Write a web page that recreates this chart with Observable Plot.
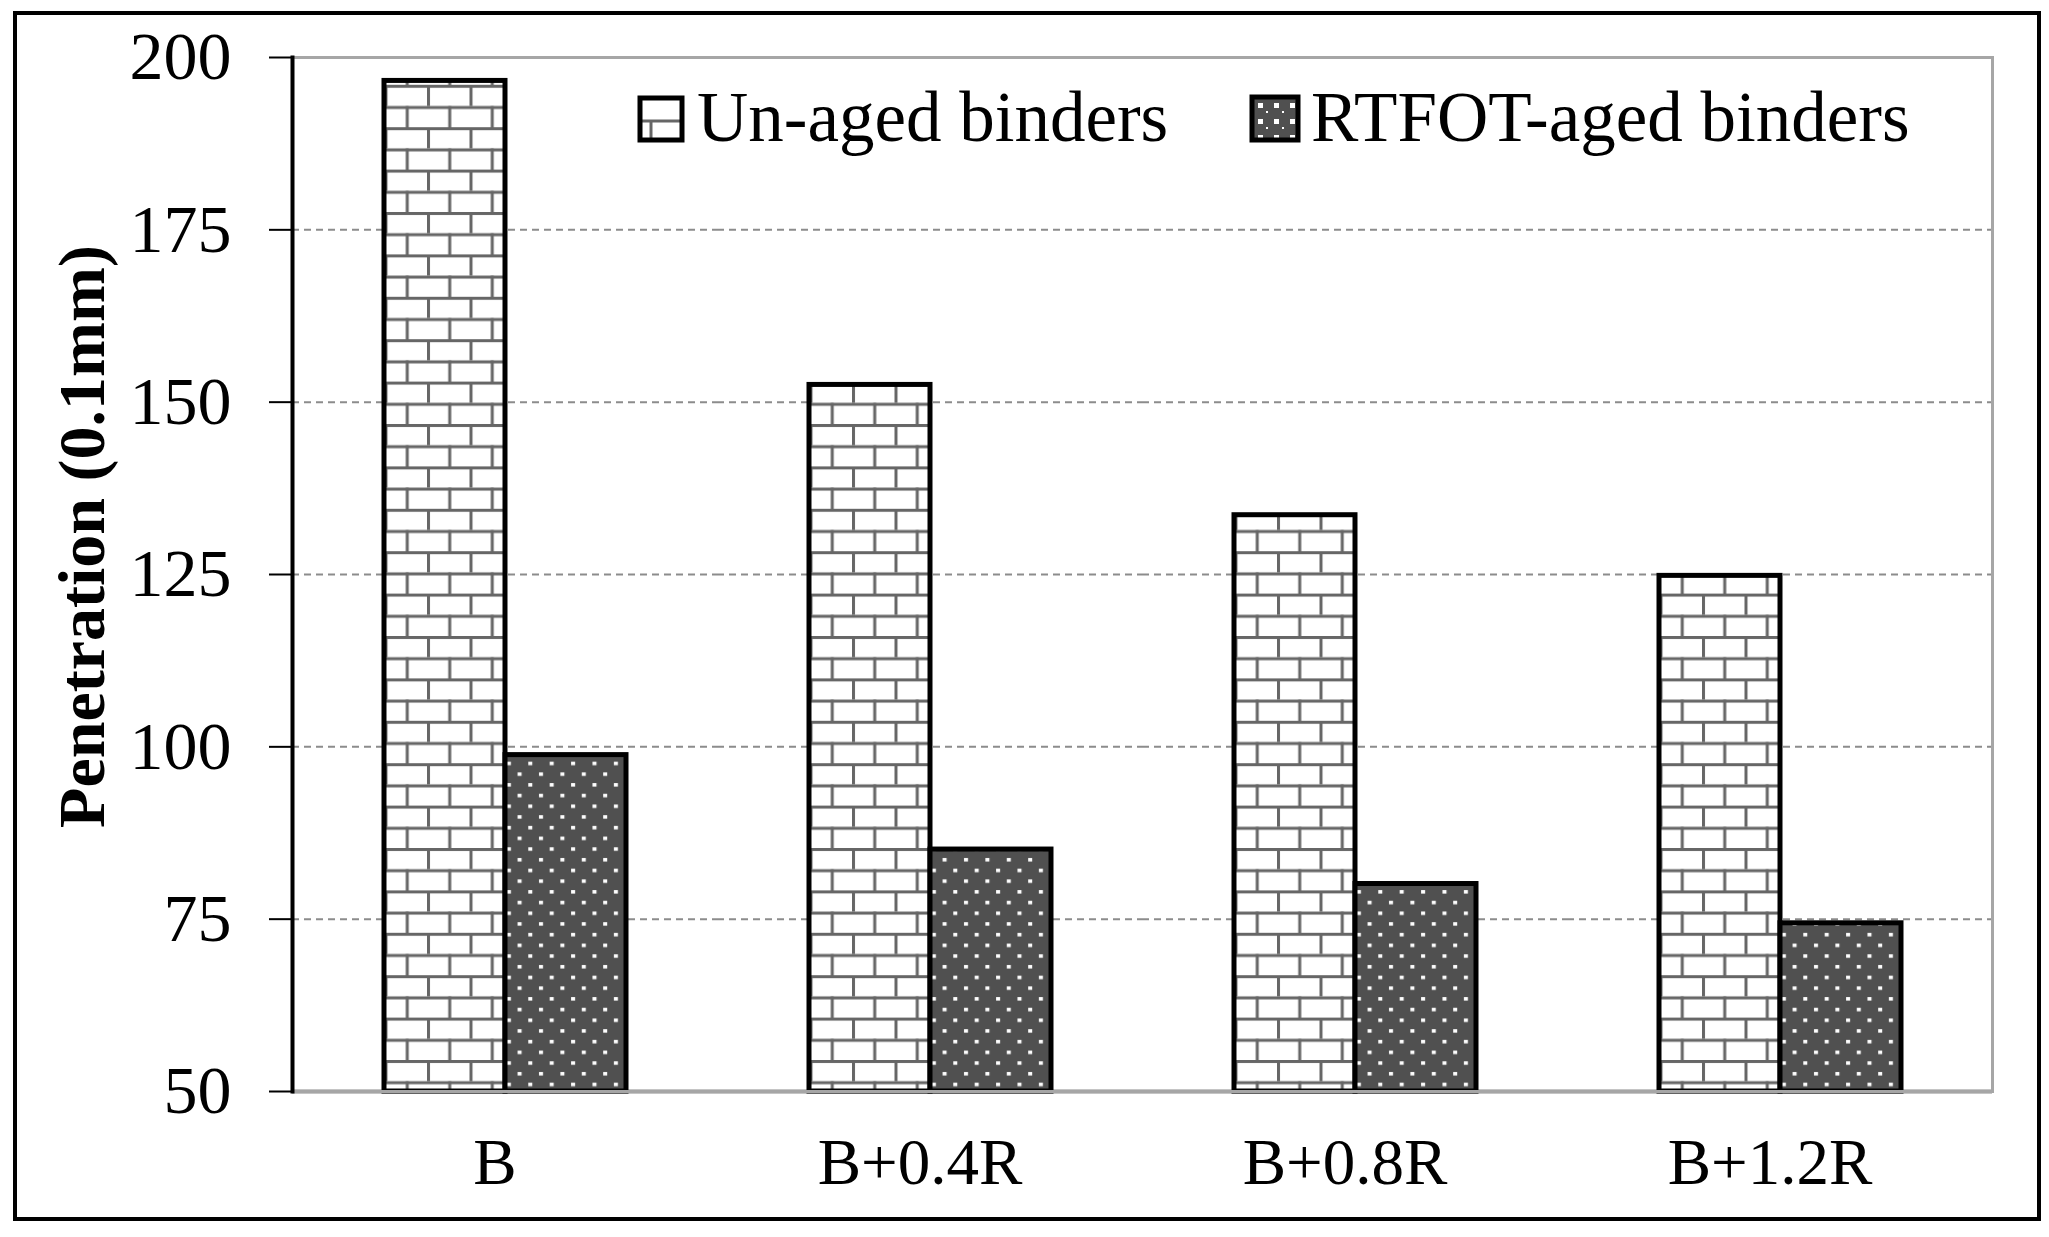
<!DOCTYPE html>
<html><head><meta charset="utf-8">
<script src="https://cdn.jsdelivr.net/npm/d3@7"></script>
<script src="https://cdn.jsdelivr.net/npm/@observablehq/plot@0.6"></script>
<style>
body{margin:0;background:#fff;}
#wrap{position:relative;width:2049px;height:1237px;overflow:hidden;}
#border{position:absolute;left:13px;top:11px;width:2028px;height:1210px;border:4px solid #000;box-sizing:border-box;pointer-events:none;}
#legend{position:absolute;left:0;top:0;}
</style></head><body>
<div id="wrap"><div id="chart"></div><div id="border"></div><svg id="legend" width="2049" height="200"></svg></div>
<script>
const categories = ["B", "B+0.4R", "B+0.8R", "B+1.2R"];
const series = ["Un-aged binders", "RTFOT-aged binders"];
const unaged = [196.6, 152.5, 133.6, 124.8];
const rtfot = [98.8, 85.1, 80.1, 74.4];
const yTicks = [50, 75, 100, 125, 150, 175, 200];
const yLabel = "Penetration (0.1mm)";

const rows = categories.flatMap((c, i) => [
  {cat: c, series: series[0], value: unaged[i]},
  {cat: c, series: series[1], value: rtfot[i]}
]);
const yMin = yTicks[0], yMax = yTicks[yTicks.length - 1];
const font = "'Liberation Serif', 'Times New Roman', serif";

const plot = Plot.plot({
  width: 2049, height: 1237,
  marginLeft: 290, marginRight: 56, marginTop: 57, marginBottom: 146,
  style: {fontFamily: font, background: "transparent", color: "#000"},
  fx: {domain: categories, padding: 0, label: null},
  x: {domain: series, paddingInner: 0, paddingOuter: 0.745, axis: null},
  y: {domain: [yMin, yMax], label: null},
  color: {domain: series, range: ["url(#brick)", "url(#dots)"]},
  marks: [
    Plot.gridY(yTicks.slice(1, -1), {stroke: "#8c8c8c", strokeOpacity: 1, strokeWidth: 2, strokeDasharray: "7,5"}),
    Plot.ruleY([yMin], {stroke: "#8c8c8c", strokeWidth: 4}),
    Plot.barY(rows, {fx: "cat", x: "series", y1: yMin, y2: "value", fill: "series", stroke: "#000", strokeWidth: 5}),
    Plot.frame({facet: "super", stroke: "#a6a6a6", strokeWidth: 3}),
    Plot.frame({facet: "super", anchor: "left", stroke: "#000", strokeWidth: 4}),
    Plot.axisY(yTicks, {anchor: "left", tickSize: 23, tickPadding: 38, fontSize: 68, strokeWidth: 2, label: null}),
    Plot.axisFx({anchor: "bottom", tickSize: 0, tickPadding: 46, fontSize: 65, dx: -10, label: null}),
    Plot.text([yLabel], {facet: "super", frameAnchor: "left", text: d => d, rotate: -90, dx: -235, dy: -38,
      textAnchor: "middle", lineAnchor: "top", fontSize: 66, fontWeight: "bold"})
  ]
});

d3.select(plot).insert("defs", ":first-child").html(`
  <pattern id="brick" patternUnits="userSpaceOnUse" width="42.5" height="42.4">
    <rect width="42.5" height="42.4" fill="#fff"/>
    <rect x="0" y="0" width="42.5" height="3" fill="#666"/>
    <rect x="0" y="21.2" width="42.5" height="3" fill="#666"/>
    <rect x="0" y="0" width="3" height="21.2" fill="#666"/>
    <rect x="21.25" y="21.2" width="3" height="21.2" fill="#666"/>
  </pattern>
  <pattern id="dots" patternUnits="userSpaceOnUse" width="21.4" height="21.4">
    <rect width="21.4" height="21.4" fill="#505050"/>
    <rect x="2" y="2" width="4" height="3.5" fill="#fff"/>
    <rect x="12.7" y="12.7" width="4" height="3.5" fill="#fff"/>
  </pattern>
  <pattern id="dotsSmall" patternUnits="userSpaceOnUse" width="16" height="16" x="1252" y="97">
    <rect width="16" height="16" fill="#505050"/>
    <rect x="6" y="6" width="5" height="5" fill="#fff"/>
    <rect x="14" y="14" width="5" height="5" fill="#fff"/>
  </pattern>`);
document.getElementById("chart").appendChild(plot);

// legend
const leg = d3.select("#legend");
const legItems = [
  {name: series[0], sx: 640, sw: 42, tx: 697},
  {name: series[1], sx: 1252, sw: 46, tx: 1311}
];
legItems.forEach((d, i) => {
  const g = leg.append("g");
  if (i === 0) {
    g.append("rect").attr("x", d.sx).attr("y", 98).attr("width", d.sw).attr("height", 42).attr("fill", "#fff");
    g.append("line").attr("x1", d.sx).attr("x2", d.sx + d.sw).attr("y1", 121).attr("y2", 121).attr("stroke", "#666").attr("stroke-width", 3);
    g.append("line").attr("x1", d.sx + 11).attr("x2", d.sx + 11).attr("y1", 121).attr("y2", 140).attr("stroke", "#666").attr("stroke-width", 3);
  } else {
    g.append("rect").attr("x", d.sx).attr("y", 97).attr("width", d.sw).attr("height", 43).attr("fill", "url(#dotsSmall)");
  }
  g.append("rect").attr("x", d.sx).attr("y", i === 0 ? 98 : 97).attr("width", d.sw).attr("height", i === 0 ? 42 : 43)
    .attr("fill", "none").attr("stroke", "#000").attr("stroke-width", 5);
  g.append("text").attr("x", d.tx).attr("y", 141).attr("font-family", font).attr("font-size", 71).attr("fill", "#000").text(d.name);
});
</script>
</body></html>
